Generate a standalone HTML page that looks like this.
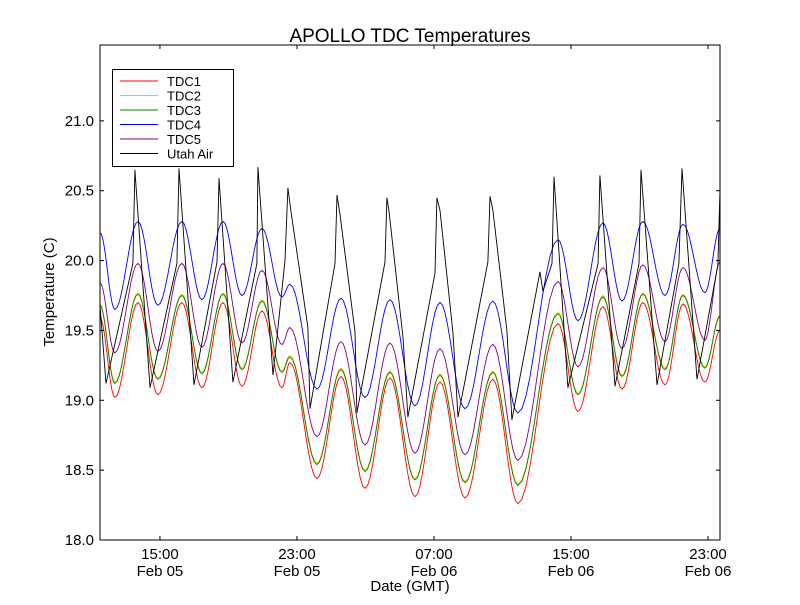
<!DOCTYPE html>
<html><head><meta charset="utf-8"><style>
body{margin:0;background:#fff;}
svg text{font-family:"Liberation Sans","DejaVu Sans",sans-serif;}
</style></head><body>
<svg id="chart" width="800" height="600" xmlns="http://www.w3.org/2000/svg">
<rect width="800" height="600" fill="#fff"/>
<text x="410" y="42" font-size="19" text-anchor="middle">APOLLO TDC Temperatures</text>
<g id="plot"></g>
<text x="410" y="591" font-size="15" text-anchor="middle">Date (GMT)</text>
<text transform="translate(54,292) rotate(-90)" font-size="15" text-anchor="middle">Temperature (C)</text>
<g id="legend"></g>
</svg>
<script>
const tdcTimes=[11.50,12.37,13.72,14.88,16.28,17.45,18.68,19.79,20.96,22.12,22.59,24.17,25.57,26.97,28.43,29.89,31.35,32.81,34.44,35.90,38.24,39.41,40.87,41.98,43.20,44.49,45.54,46.82,47.70];
const tdc1=[19.59,19.02,19.70,19.04,19.70,19.09,19.70,19.10,19.64,19.09,19.27,18.44,19.17,18.37,19.16,18.31,19.13,18.30,19.15,18.26,19.55,18.92,19.67,19.08,19.70,19.11,19.69,19.13,19.50];
const tdc2=[19.69,19.13,19.77,19.16,19.76,19.20,19.77,19.23,19.72,19.21,19.32,18.55,19.23,18.50,19.21,18.44,19.19,18.42,19.21,18.40,19.63,19.05,19.75,19.18,19.77,19.23,19.76,19.24,19.61];
const tdc3=[19.68,19.12,19.76,19.15,19.75,19.19,19.76,19.22,19.71,19.20,19.31,18.54,19.22,18.49,19.20,18.43,19.18,18.41,19.20,18.39,19.62,19.04,19.74,19.17,19.76,19.22,19.75,19.23,19.60];
const tdc4=[20.20,19.65,20.28,19.68,20.28,19.72,20.28,19.75,20.23,19.74,19.83,19.08,19.73,19.02,19.72,18.96,19.70,18.94,19.71,18.91,20.15,19.57,20.27,19.71,20.28,19.75,20.26,19.77,20.23];
const tdc5=[19.84,19.34,19.98,19.35,19.98,19.38,19.98,19.41,19.93,19.40,19.52,18.74,19.42,18.68,19.41,18.62,19.37,18.61,19.40,18.57,19.85,19.24,19.95,19.37,19.97,19.42,19.95,19.43,19.99];
const airTimes=[11.50,11.85,13.42,13.54,14.42,15.99,16.11,16.99,18.33,18.45,19.26,20.66,20.72,21.60,22.30,22.47,22.65,23.64,23.76,25.22,25.34,25.51,26.39,26.50,28.14,28.25,28.37,29.19,29.48,31.06,31.17,31.35,32.11,32.40,34.15,34.27,34.44,35.26,35.55,37.19,37.36,37.89,38.01,38.82,40.58,40.69,41.57,42.97,43.09,44.02,45.30,45.48,46.36,47.58,47.70];
const utahAir=[19.68,19.12,19.98,20.65,19.09,19.98,20.66,19.11,19.99,20.59,19.13,19.98,20.67,19.18,20.00,20.52,20.35,19.52,18.94,19.98,20.47,20.33,19.49,18.91,19.99,20.45,20.36,19.45,18.88,19.91,20.45,20.36,19.48,18.88,19.99,20.46,20.36,19.50,18.86,19.92,19.78,19.98,20.60,19.09,19.98,20.61,19.10,19.98,20.65,19.11,19.98,20.66,19.15,19.97,20.51];
const yTicks=[18.0,18.5,19.0,19.5,20.0,20.5,21.0];
const xTickHours=[15,23,31,39,47];
const xTickTimes=["15:00","23:00","07:00","15:00","23:00"];
const xTickDates=["Feb 05","Feb 05","Feb 06","Feb 06","Feb 06"];
const seriesNames=["TDC1","TDC2","TDC3","TDC4","TDC5","Utah Air"];
const seriesColors=["#ff0000","#ffbf00","#008000","#0000ff","#800080","#000000"];

const L=100,R=720,T=45,B=540,X0=11.5,X1=47.7,Y0=18,Y1=21.543;
function sx(h){return L+(h-X0)/(X1-X0)*(R-L);}
function sy(v){return B-(v-Y0)/(Y1-Y0)*(B-T);}
const NS="http://www.w3.org/2000/svg";
const plot=document.getElementById('plot');
function mk(tag,attrs,parent){const e=document.createElementNS(NS,tag);for(const k in attrs)e.setAttribute(k,attrs[k]);parent.appendChild(e);return e;}

const clip=mk('clipPath',{id:'clip'},plot);mk('rect',{x:L,y:T,width:R-L,height:B-T},clip);
const lines=mk('g',{'clip-path':'url(#clip)'},plot);
function smoothPath(ts,vs){let d='';for(let i=0;i<ts.length-1;i++){for(let k=0;k<=10;k++){if(i>0&&k===0)continue;const f=k/10,m=(1-Math.cos(Math.PI*f))/2;const h=ts[i]+(ts[i+1]-ts[i])*f;const v=vs[i]+(vs[i+1]-vs[i])*m;d+=(d?'L':'M')+sx(h).toFixed(1)+','+sy(v).toFixed(1);}}return d;}
function linPath(ts,vs){return ts.map((t,i)=>(i?'L':'M')+sx(t).toFixed(1)+','+sy(vs[i]).toFixed(1)).join('');}
const tdcData=[tdc1,tdc2,tdc3,tdc4,tdc5];
const order=[1,0,2,4,3];
order.forEach(i=>{const p=mk('path',{d:smoothPath(tdcTimes,tdcData[i]),fill:'none',stroke:seriesColors[i],'stroke-width':0.9},lines);

});
const ap=mk('path',{d:linPath(airTimes,utahAir),fill:'none',stroke:'#000','stroke-width':0.9},lines);



mk('rect',{x:L,y:T,width:R-L,height:B-T,fill:'none',stroke:'#000','stroke-width':1},plot);
yTicks.forEach(v=>{const y=sy(v);
mk('line',{x1:L,x2:L+4,y1:y,y2:y,stroke:'#000'},plot);mk('line',{x1:R-4,x2:R,y1:y,y2:y,stroke:'#000'},plot);
const t=mk('text',{x:L-6,y:y+5,'font-size':15,'text-anchor':'end'},plot);t.textContent=v.toFixed(1);

});
xTickHours.forEach((h,i)=>{const x=sx(h);
mk('line',{x1:x,x2:x,y1:B,y2:B-4,stroke:'#000'},plot);mk('line',{x1:x,x2:x,y1:T,y2:T+4,stroke:'#000'},plot);
const t=mk('text',{x:x,y:B+19,'font-size':15,'text-anchor':'middle'},plot);t.textContent=xTickTimes[i];


const t2=mk('text',{x:x,y:B+36,'font-size':15,'text-anchor':'middle'},plot);t2.textContent=xTickDates[i];

});

const lg=document.getElementById('legend');
mk('rect',{x:112.5,y:69.5,width:121,height:97,fill:'#fff',stroke:'#000'},lg);
seriesNames.forEach((n,i)=>{const y=81+i*14.5;
const g=mk('g',{},lg);


mk('line',{x1:120,x2:158,y1:y,y2:y,stroke:seriesColors[i]},g);
const t=mk('text',{x:167,y:y+5,'font-size':13},g);t.textContent=n;});
</script>
</body></html>
